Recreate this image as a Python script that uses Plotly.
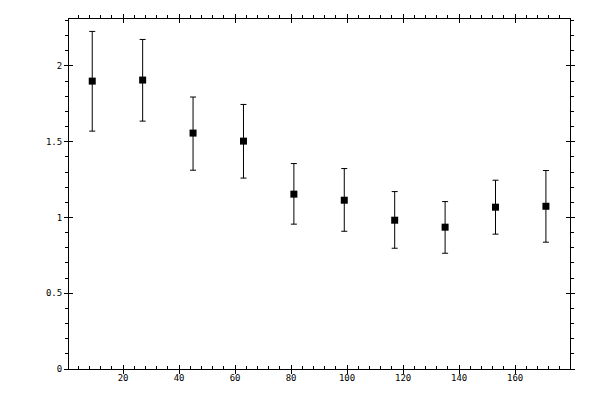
import plotly.graph_objects as go

# bin centres and measured values with asymmetric errors
angle = [9, 27, 45, 63, 81, 99, 117, 135, 153, 171]
value = [1.900, 1.907, 1.557, 1.504, 1.154, 1.114, 0.982, 0.936, 1.068, 1.074]
upper = [2.228, 2.175, 1.795, 1.746, 1.356, 1.323, 1.171, 1.105, 1.246, 1.310]
lower = [1.570, 1.636, 1.312, 1.260, 0.956, 0.909, 0.797, 0.764, 0.890, 0.837]

err_plus = [u - v for u, v in zip(upper, value)]
err_minus = [v - l for v, l in zip(value, lower)]

x_range = [0.7, 179.6]
y_range = [0, 2.31]
font = dict(family="DejaVu Sans Mono", size=9, color="black")

fig = go.Figure()
fig.add_trace(go.Scatter(
    x=angle, y=value, mode="markers",
    marker=dict(symbol="square", size=7, color="black"),
    error_y=dict(type="data", symmetric=False, array=err_plus, arrayminus=err_minus,
                 color="black", thickness=1, width=3),
    showlegend=False,
))
# empty traces so the overlay axes get drawn
for xa, ya in [("x2", "y2"), ("x3", "y3"), ("x4", "y4")]:
    fig.add_trace(go.Scatter(x=[], y=[], xaxis=xa, yaxis=ya, showlegend=False))

common_x = dict(range=x_range, showgrid=False, zeroline=False, showline=True,
                linecolor="black", linewidth=1, tickcolor="black", tickwidth=1,
                dtick=20, tick0=0)
common_y = dict(range=y_range, showgrid=False, zeroline=False, showline=True,
                linecolor="black", linewidth=1, tickcolor="black", tickwidth=1,
                dtick=0.5, tick0=0)

# page body has an 8px margin, so the figure is a bit smaller than the window
fig.update_layout(
    width=592, height=392,
    margin=dict(l=61, r=30, t=7, b=31),
    plot_bgcolor="white", paper_bgcolor="white",
    font=font,
    xaxis=dict(**common_x, side="bottom", ticks="inside", ticklen=4,
               minor=dict(ticks="inside", ticklen=3, dtick=4, tickcolor="black"),
               tickfont=font),
    xaxis2=dict(**common_x, side="top", overlaying="x", ticks="outside", ticklen=4,
                minor=dict(ticks="outside", ticklen=3, dtick=4, tickcolor="black"),
                showticklabels=False),
    xaxis3=dict(**common_x, side="bottom", overlaying="x", ticks="outside", ticklen=4,
                showticklabels=False),
    xaxis4=dict(**common_x, side="top", overlaying="x", ticks="inside", ticklen=4,
                showticklabels=False),
    yaxis=dict(**common_y, side="left", ticks="outside", ticklen=4, mirror="ticks",
               minor=dict(ticks="outside", ticklen=3, dtick=0.1, tickcolor="black"),
               tickfont=font),
    yaxis2=dict(**common_y, side="left", overlaying="y", ticks="inside", ticklen=4,
                mirror="ticks", showticklabels=False),
    yaxis3=dict(**common_y, side="right", overlaying="y", ticks="outside", ticklen=4,
                minor=dict(ticks="outside", ticklen=3, dtick=0.1, tickcolor="black"),
                showticklabels=False),
    yaxis4=dict(**common_y, side="right", overlaying="y", ticks="inside", ticklen=4,
                showticklabels=False),
)

fig.write_html("out.html")
